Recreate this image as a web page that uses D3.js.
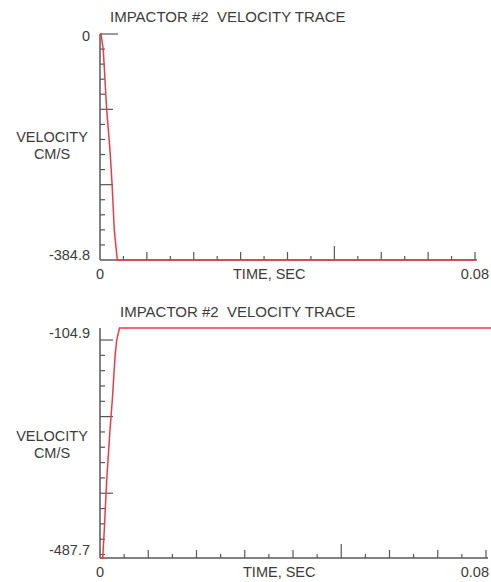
<!DOCTYPE html>
<html>
<head>
<meta charset="utf-8">
<script src="https://cdn.jsdelivr.net/npm/d3@7"></script>
<style>
  body { margin: 0; background: #fff; }
  svg text { font-family: "Liberation Sans", Arial, sans-serif; fill: #3c3c3c; white-space: pre; }
</style>
</head>
<body>
<svg id="chart" width="491" height="582"></svg>
<script>
// Upper trace: impactor velocity (cm/s) against time (s)
const time1 = [0, 0.00021, 0.0007, 0.00143, 0.00213, 0.00256, 0.00305, 0.00369, 0.08];
const vel1  = [0, 0, -27.2, -129.4, -197.5, -253.7, -333.7, -384.8, -384.8];

// Lower trace
const time2 = [0, 0.00056, 0.00089, 0.00139, 0.00207, 0.00255, 0.00311, 0.00346, 0.00404, 0.0812];
const vel2  = [-487.7, -487.7, -441.1, -357.9, -274.7, -224.7, -153.2, -124.9, -104.9, -104.9];

// Axis extents and their printed labels
const timeDomain = [0, 0.08];
const timeLabels = ["0", "0.08"];
const velDomain1 = [-384.8, 0];
const velLabels1 = ["-384.8", "0"];
const velDomain2 = [-487.7, -104.9];
const velLabels2 = ["-487.7", "-104.9"];

// Tick marks
const timeTickStep = 0.005;
const velTickStart1 = 0, velTickStep1 = 384.8 / 15, velTickCount1 = 15;
const velTickStart2 = -124.9, velTickStep2 = 25.5, velTickCount2 = 15;

const titleText = "IMPACTOR #2  VELOCITY TRACE";
const yTitle = ["VELOCITY", "CM/S"];
const xTitle = "TIME, SEC";

const svg = d3.select("#chart");
const axisColor = "#585858";
const traceColor = "#ec3b46";
const fontSize = "14.5px";

const panels = [
  {
    time: time1, vel: vel1, velDomain: velDomain1, velLabels: velLabels1,
    tickStart: velTickStart1, tickStep: velTickStep1, tickCount: velTickCount1,
    left: 100, right: 475, top: 34, bottom: 260,
    titleX: 110, titleY: 16, yTitleY: 137,
    xTitleX: 233, labelTopDy: 2, labelBotDy: -5, topLine: true, xEnd: 489
  },
  {
    time: time2, vel: vel2, velDomain: velDomain2, velLabels: velLabels2,
    tickStart: velTickStart2, tickStep: velTickStep2, tickCount: velTickCount2,
    left: 100, right: 486, top: 328, bottom: 558,
    titleX: 120, titleY: 311, yTitleY: 436,
    xTitleX: 243, labelTopDy: 5, labelBotDy: -8, topLine: false, xEnd: 491
  }
];

panels.forEach(p => {
  const g = svg.append("g");
  const x = d3.scaleLinear().domain(timeDomain).range([p.left, p.right]);
  const y = d3.scaleLinear().domain(p.velDomain).range([p.bottom, p.top]);

  // title
  g.append("text").attr("x", p.titleX).attr("y", p.titleY)
    .attr("dominant-baseline", "central").style("font-size", "15px")
    .text(titleText);

  // y axis line
  g.append("line")
    .attr("x1", p.left).attr("x2", p.left)
    .attr("y1", y(p.velDomain[1])).attr("y2", y(p.velDomain[0]))
    .attr("stroke", axisColor).attr("stroke-width", 1.5);

  // x axis line
  g.append("line")
    .attr("x1", p.left).attr("x2", Math.min(p.xEnd, x(timeDomain[1]) + 2))
    .attr("y1", p.bottom).attr("y2", p.bottom)
    .attr("stroke", axisColor).attr("stroke-width", 1.5);

  // y ticks pointing into the plot
  const vt = d3.range(p.tickCount).map(k => p.tickStart - k * p.tickStep);
  g.selectAll(".ytick").data(vt).join("line")
    .attr("x1", p.left)
    .attr("x2", (d, i) => p.left + (i === 0 && p.topLine ? 18 : (i % 5 === 0 ? 13 : 5)))
    .attr("y1", d => y(d)).attr("y2", d => y(d))
    .attr("stroke", axisColor).attr("stroke-width", 1.2);

  // x ticks pointing up
  const tt = d3.range(1, 17).map(i => i * timeTickStep);
  g.selectAll(".xtick").data(tt).join("line")
    .attr("x1", d => x(d)).attr("x2", d => x(d))
    .attr("y1", p.bottom)
    .attr("y2", (d, i) => {
      const n = i + 1;
      return p.bottom - (n === 10 ? 14 : (n % 2 === 0 ? 8 : 4));
    })
    .attr("stroke", axisColor).attr("stroke-width", 1.2);

  // velocity trace
  const pts = p.time.map((t, i) => [t, p.vel[i]]);
  g.append("path").datum(pts)
    .attr("fill", "none").attr("stroke", traceColor).attr("stroke-width", 1.5)
    .attr("d", d3.line().x(d => x(d[0])).y(d => y(d[1])));

  // y extent labels
  g.append("text").attr("x", 90).attr("y", y(p.velDomain[1]) + p.labelTopDy)
    .attr("text-anchor", "end").attr("dominant-baseline", "central")
    .style("font-size", fontSize).text(p.velLabels[1]);
  g.append("text").attr("x", 90).attr("y", y(p.velDomain[0]) + p.labelBotDy)
    .attr("text-anchor", "end").attr("dominant-baseline", "central")
    .style("font-size", fontSize).text(p.velLabels[0]);

  // y title
  yTitle.forEach((t, i) => {
    g.append("text").attr("x", 52).attr("y", p.yTitleY + i * 17)
      .attr("text-anchor", "middle").attr("dominant-baseline", "central")
      .style("font-size", fontSize).text(t);
  });

  // x extent labels and title
  g.append("text").attr("x", x(timeDomain[0])).attr("y", p.bottom + 14)
    .attr("text-anchor", "middle").attr("dominant-baseline", "central")
    .style("font-size", fontSize).text(timeLabels[0]);
  g.append("text").attr("x", 489).attr("y", p.bottom + 14)
    .attr("text-anchor", "end").attr("dominant-baseline", "central")
    .style("font-size", fontSize).text(timeLabels[1]);
  g.append("text").attr("x", p.xTitleX).attr("y", p.bottom + 14)
    .attr("dominant-baseline", "central")
    .style("font-size", fontSize).text(xTitle);
});
</script>
</body>
</html>
